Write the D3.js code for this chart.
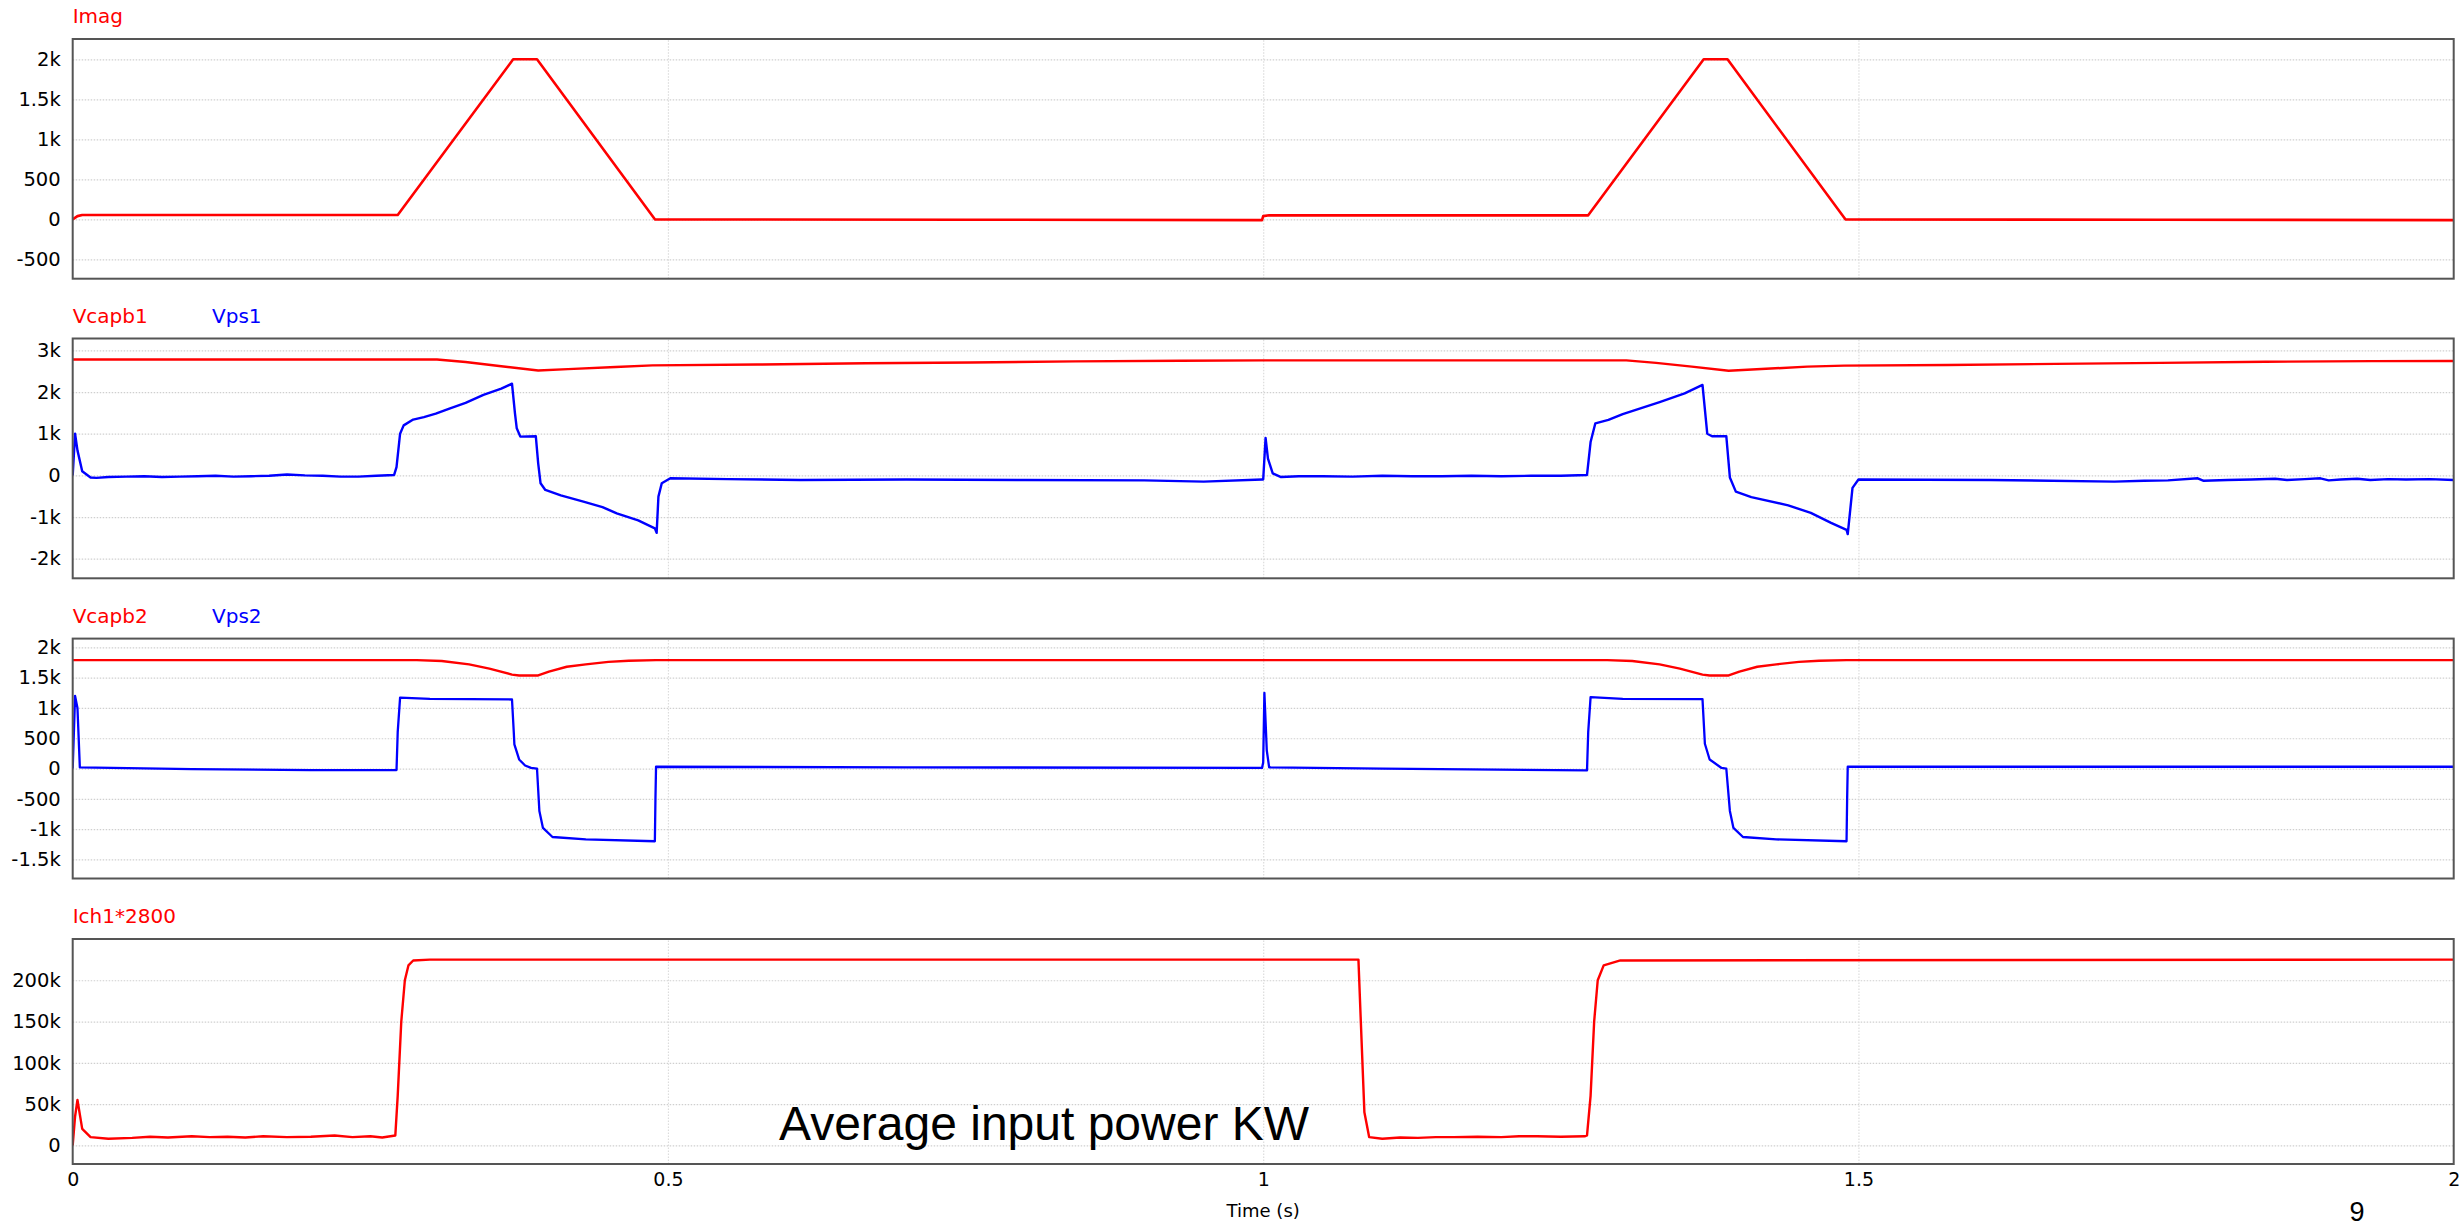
<!DOCTYPE html>
<html><head><meta charset="utf-8">
<script src="https://cdn.jsdelivr.net/npm/d3@7"></script>
<style>html,body{margin:0;padding:0;background:#fff;}svg{display:block;}</style>
</head><body>
<svg id="chart" width="2460" height="1227"></svg>
<script>
// ---------------- DATA ----------------
const xTicks = [0, 0.5, 1, 1.5, 2];
const xLabel = "Time (s)";

const imagT = [0, 0.004, 0.008, 0.273, 0.370, 0.390, 0.489, 0.75, 0.999, 1.0, 1.005, 1.273, 1.370, 1.390, 1.489, 1.75, 2.0];
const imagV = [0, 40, 54, 54, 2000, 2000, 0, -5, -10, 40, 50, 50, 2000, 2000, 0, -5, -10];
const imagTicks = [-500, 0, 500, 1000, 1500, 2000];

const vcapb1T = [0, 0.306, 0.33, 0.36, 0.391, 0.416, 0.456, 0.487, 0.575, 0.666, 0.754, 0.842, 0.931, 1.0, 1.305, 1.33, 1.36, 1.391, 1.457, 1.488, 1.575, 1.666, 1.754, 1.842, 1.931, 2.0];
const vcapb1V = [2780, 2780, 2720, 2620, 2518, 2550, 2600, 2640, 2660, 2690, 2710, 2735, 2750, 2760, 2760, 2700, 2610, 2510, 2610, 2635, 2650, 2676, 2700, 2727, 2743, 2745];
const vps1T = [0, 0.002, 0.004, 0.008, 0.015, 0.02, 0.03, 0.045, 0.06, 0.075, 0.09, 0.105, 0.12, 0.135, 0.15, 0.165, 0.18, 0.195, 0.21, 0.225, 0.24, 0.255, 0.27, 0.272, 0.275, 0.278, 0.286, 0.295, 0.305, 0.317, 0.33, 0.345, 0.36, 0.369, 0.3715, 0.373, 0.376, 0.389, 0.391, 0.393, 0.397, 0.41, 0.429, 0.445, 0.457, 0.475, 0.489, 0.4905, 0.492, 0.4948, 0.502, 0.55, 0.611, 0.7, 0.8, 0.9, 0.95, 0.999,
  1.0, 1.002, 1.004, 1.008, 1.015, 1.03, 1.05, 1.075, 1.1, 1.125, 1.15, 1.175, 1.2, 1.225, 1.25, 1.272, 1.275, 1.279, 1.29, 1.302, 1.333, 1.354, 1.369, 1.373, 1.377, 1.389, 1.392, 1.397, 1.41, 1.441, 1.46, 1.477, 1.490, 1.491, 1.495, 1.500, 1.611, 1.715, 1.74, 1.76, 1.785, 1.79, 1.81, 1.83, 1.85, 1.86, 1.875, 1.888, 1.895, 1.905, 1.919, 1.93, 1.945, 1.96, 1.98, 2.0];
const vps1V = [0, 1000, 600, 100, -50, -60, -40, -30, -20, -40, -30, -20, -10, -30, -20, -10, 20, 0, -10, -30, -30, -10, 10, 200, 1000, 1200, 1340, 1400, 1480, 1610, 1740, 1930, 2080, 2200, 1490, 1130, 930, 940, 290, -190, -350, -480, -630, -760, -910, -1080, -1270, -1380, -510, -190, -70, -90, -110, -100, -110, -120, -150, -100,
  -100, 900, 400, 50, -40, -20, -20, -30, -10, -20, -20, -10, -20, -10, -10, 10, 800, 1250, 1330, 1470, 1760, 1970, 2170, 1000, 940, 940, -50, -390, -520, -720, -900, -1140, -1310, -1410, -300, -100, -110, -150, -130, -120, -70, -130, -110, -100, -80, -110, -90, -70, -120, -100, -80, -110, -90, -100, -90, -110];
const panel2Ticks = [-2000, -1000, 0, 1000, 2000, 3000];

const vcapb2T = [0, 0.289, 0.31, 0.333, 0.35, 0.369, 0.375, 0.391, 0.40, 0.415, 0.431, 0.45, 0.467, 0.49, 1.289, 1.31, 1.333, 1.35, 1.369, 1.375, 1.391, 1.40, 1.415, 1.431, 1.45, 1.467, 1.49, 2.0];
const vcapb2V = [1790, 1790, 1775, 1720, 1650, 1550, 1536, 1536, 1600, 1680, 1720, 1760, 1780, 1790, 1790, 1775, 1720, 1650, 1550, 1536, 1536, 1600, 1680, 1720, 1760, 1780, 1790, 1790];
const vps2T = [0, 0.001, 0.002, 0.004, 0.006, 0.1, 0.2, 0.272, 0.273, 0.275, 0.30, 0.369, 0.3705, 0.371, 0.375, 0.38, 0.385, 0.390, 0.392, 0.395, 0.403, 0.431, 0.489, 0.4895, 0.49, 0.7, 0.999, 1.0, 1.001, 1.003, 1.005, 1.1, 1.272, 1.273, 1.275, 1.302, 1.369, 1.3705, 1.371, 1.375, 1.385, 1.389, 1.392, 1.395, 1.403, 1.431, 1.49, 1.4905, 1.491, 2.0];
const vps2V = [0, 600, 1200, 1000, 20, -10, -25, -25, 600, 1170, 1150, 1140, 600, 400, 150, 50, 10, 0, -700, -980, -1130, -1170, -1200, -500, 30, 20, 10, 100, 1250, 300, 20, 0, -30, 600, 1180, 1150, 1145, 600, 410, 150, 10, 0, -700, -980, -1130, -1170, -1200, -500, 30, 30];
const panel3Ticks = [-1500, -1000, -500, 0, 500, 1000, 1500, 2000];

const ichT = [0, 0.002, 0.004, 0.008, 0.015, 0.03, 0.05, 0.065, 0.08, 0.1, 0.115, 0.13, 0.145, 0.16, 0.18, 0.2, 0.22, 0.235, 0.25, 0.26, 0.271, 0.273, 0.276, 0.279, 0.282, 0.286, 0.3, 1.0, 1.08, 1.082, 1.085, 1.089, 1.1, 1.115, 1.13, 1.145, 1.16, 1.18, 1.2, 1.215, 1.23, 1.25, 1.27, 1.272, 1.275, 1.278, 1.281, 1.286, 1.3, 2.0];
const ichV = [0, 35000, 55000, 20000, 10000, 8000, 9000, 10500, 9500, 11000, 10000, 10500, 9500, 11000, 10000, 10500, 12000, 10000, 11000, 9500, 12000, 60000, 150000, 200000, 218000, 224000, 225000, 225000, 225000, 150000, 40000, 10000, 8000, 9500, 9000, 10000, 10000, 10500, 10000, 11000, 11000, 10500, 11000, 12000, 60000, 150000, 200000, 218000, 224000, 225000, 224000];
const panel4Ticks = [0, 50000, 100000, 150000, 200000];

const annotation = "Average input power KW";
const pageNumber = "9";

// ---------------- LAYOUT ----------------
const svg = d3.select("#chart");
const X0 = 72.7, X1 = 2453.7;
const x = d3.scaleLinear().domain([0, 2]).range([X0, X1]);
const RED = "#ff0000", BLUE = "#0000ff";
const FONT = "DejaVu Sans";

function fmt(v) {
  const a = Math.abs(v);
  if (a >= 1000) return (v / 1000) + "k";
  return String(v);
}
function zip(ts, vs) { return ts.map((t, i) => [t, vs[i]]); }

const panels = [
  { top: 39, bottom: 278.7, domain: [-742, 2254], ticks: imagTicks,
    series: [{ name: "Imag", t: imagT, v: imagV, color: RED, w: 2.6 }] },
  { top: 338.5, bottom: 578.3, domain: [-2470, 3285], ticks: panel2Ticks,
    series: [{ name: "Vcapb1", t: vcapb1T, v: vcapb1V, color: RED, w: 2.4 },
             { name: "Vps1", t: vps1T, v: vps1V, color: BLUE, w: 2.4 }] },
  { top: 638.6, bottom: 878.5, domain: [-1815, 2145], ticks: panel3Ticks,
    series: [{ name: "Vcapb2", t: vcapb2T, v: vcapb2V, color: RED, w: 2.4 },
             { name: "Vps2", t: vps2T, v: vps2V, color: BLUE, w: 2.3 }] },
  { top: 939, bottom: 1164, domain: [-22600, 250000], ticks: panel4Ticks,
    series: [{ name: "Ich1*2800", t: ichT, v: ichV, color: RED, w: 2.4 }] }
];
const labelX = [72.7, 212];

panels.forEach((p, pi) => {
  const y = d3.scaleLinear().domain(p.domain).range([p.bottom, p.top]);
  const g = svg.append("g");
  const h = p.bottom - p.top;

  g.append("g").attr("transform", `translate(${X0},0)`)
    .call(d3.axisLeft(y).tickValues(p.ticks).tickSize(-(X1 - X0)).tickFormat(""))
    .call(a => a.select(".domain").remove())
    .call(a => a.selectAll("line").attr("stroke", "#cfcfcf").attr("stroke-width", 1.2).attr("stroke-dasharray", "1.5,1.5"));
  g.append("g").attr("transform", `translate(0,${p.bottom})`)
    .call(d3.axisBottom(x).tickValues([0.5, 1, 1.5]).tickSize(-h).tickFormat(""))
    .call(a => a.select(".domain").remove())
    .call(a => a.selectAll("line").attr("stroke", "#dcdcdc").attr("stroke-width", 1.2).attr("stroke-dasharray", "1.5,1.5"));

  g.append("g").attr("transform", `translate(${X0},0)`)
    .call(d3.axisLeft(y).tickValues(p.ticks).tickSize(0).tickPadding(12).tickFormat(fmt))
    .call(a => a.select(".domain").remove())
    .call(a => a.selectAll("text").attr("font-family", FONT).attr("font-size", 19.5).attr("fill", "#000"));

  const cid = "clip" + pi;
  svg.append("clipPath").attr("id", cid).append("rect")
    .attr("x", X0).attr("y", p.top).attr("width", X1 - X0).attr("height", h);

  const line = d3.line().x(d => x(d[0])).y(d => y(d[1]));
  p.series.forEach((s, si) => {
    g.append("path").attr("clip-path", `url(#${cid})`)
      .attr("d", line(zip(s.t, s.v)))
      .attr("fill", "none").attr("stroke", s.color).attr("stroke-width", s.w)
      .attr("stroke-linejoin", "round");
    g.append("text").attr("x", labelX[si]).attr("y", p.top - 16)
      .attr("font-family", FONT).attr("font-size", 20).attr("fill", s.color).text(s.name);
  });

  g.append("rect").attr("x", X0).attr("y", p.top).attr("width", X1 - X0).attr("height", h)
    .attr("fill", "none").attr("stroke", "#555").attr("stroke-width", 2);

  if (pi === panels.length - 1) {
    g.append("g").attr("transform", `translate(0,${p.bottom})`)
      .call(d3.axisBottom(x).tickValues(xTicks).tickSize(0).tickPadding(9).tickFormat(d => String(d)))
      .call(a => a.select(".domain").remove())
      .call(a => a.selectAll("text").attr("font-family", FONT).attr("font-size", 19).attr("fill", "#000"));
    svg.append("text").attr("x", x(1)).attr("y", 1217).attr("text-anchor", "middle")
      .attr("font-family", FONT).attr("font-size", 18).attr("fill", "#000").text(xLabel);
  }
});

svg.append("text").attr("x", 779).attr("y", 1140)
  .attr("font-family", "Liberation Sans, Arial, sans-serif").attr("font-size", 48).attr("fill", "#000").text(annotation);
svg.append("text").attr("x", 2357).attr("y", 1221).attr("text-anchor", "middle")
  .attr("font-family", "Liberation Sans, Arial, sans-serif").attr("font-size", 27).attr("fill", "#000").text(pageNumber);
</script>
</body></html>
